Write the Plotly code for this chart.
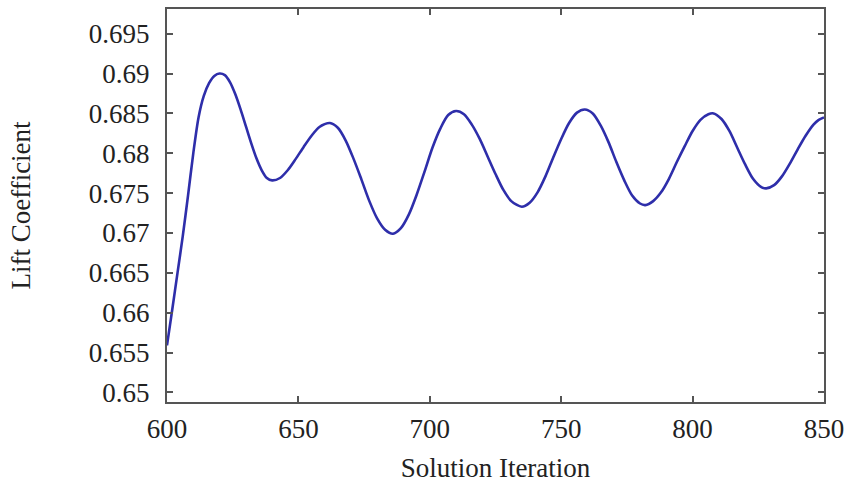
import plotly.graph_objects as go

# Lift coefficient history over solver iterations
iterations = [
    600, 602, 604, 606, 608, 610, 612, 614, 616, 618, 620,
    622, 624, 626, 628, 630, 632, 634, 636, 638, 640,
    643, 646, 649, 652, 655, 658, 662,
    665, 668, 671, 674, 677, 680, 683, 686,
    689, 692, 695, 698, 701, 704, 707, 710,
    713, 716, 719, 722, 725, 728, 731, 735,
    738, 741, 744, 747, 750, 753, 756, 759,
    762, 765, 768, 771, 774, 777, 780, 782,
    785, 788, 791, 794, 797, 800, 803, 806, 808,
    811, 814, 817, 820, 823, 826, 828,
    831, 834, 837, 840, 843, 846, 848, 850,
]
lift = [
    0.6559, 0.6604, 0.6650, 0.6696, 0.6747, 0.6800, 0.6845, 0.6872, 0.6888, 0.6897, 0.6900,
    0.6898, 0.6889, 0.6874, 0.6855, 0.6834, 0.6813, 0.6794, 0.6779, 0.6769, 0.6766,
    0.6769, 0.6779, 0.6793, 0.6808, 0.6822, 0.6833, 0.6838,
    0.6832, 0.6816, 0.6793, 0.6767, 0.6740, 0.6718, 0.6704, 0.6699,
    0.6706, 0.6723, 0.6748, 0.6777, 0.6807, 0.6831, 0.6848, 0.6853,
    0.6849, 0.6836, 0.6818, 0.6796, 0.6774, 0.6754, 0.6740, 0.6733,
    0.6738, 0.6751, 0.6771, 0.6795, 0.6818, 0.6838, 0.6851, 0.6855,
    0.6850, 0.6835, 0.6814, 0.6789, 0.6766, 0.6747, 0.6737, 0.6735,
    0.6740, 0.6751, 0.6768, 0.6789, 0.6809, 0.6828, 0.6842, 0.6849, 0.6850,
    0.6843, 0.6828, 0.6807, 0.6786, 0.6768, 0.6758, 0.6756,
    0.6760, 0.6771, 0.6787, 0.6805, 0.6822, 0.6836, 0.6842, 0.6845,
]

x_ticks = [600, 650, 700, 750, 800, 850]
y_ticks = [0.65, 0.655, 0.66, 0.665, 0.67, 0.675, 0.68, 0.685, 0.69, 0.695]
y_tick_text = ["0.65", "0.655", "0.66", "0.665", "0.67", "0.675",
               "0.68", "0.685", "0.69", "0.695"]

font_family = "Liberation Serif"
axis_color = "#555555"
text_color = "#222222"
font_size = 27

fig = go.Figure(
    go.Scatter(
        x=iterations,
        y=lift,
        mode="lines",
        line=dict(color="#2e2eaa", width=2.6, shape="spline", smoothing=0.8),
        hoverinfo="x+y",
    )
)

fig.update_layout(
    width=850,
    height=484,
    margin=dict(l=167, r=26, t=9, b=82),
    paper_bgcolor="white",
    plot_bgcolor="white",
    showlegend=False,
    font=dict(family=font_family, size=font_size, color=text_color),
)

fig.update_xaxes(
    range=[600, 850],
    tickvals=x_ticks,
    ticktext=[str(v) for v in x_ticks],
    ticks="inside",
    ticklen=6,
    tickwidth=1.5,
    tickcolor=axis_color,
    showline=True,
    linecolor=axis_color,
    linewidth=2,
    mirror="ticks",
    showgrid=False,
    zeroline=False,
    automargin=False,
    ticklabelstandoff=2,
    tickfont=dict(family=font_family, size=font_size, color=text_color),
    title=dict(text="Solution Iteration", standoff=15,
               font=dict(family=font_family, size=font_size, color=text_color)),
)

fig.update_yaxes(
    range=[0.6488, 0.6981],
    tickvals=y_ticks,
    ticktext=y_tick_text,
    ticks="inside",
    ticklen=6,
    tickwidth=1.5,
    tickcolor=axis_color,
    showline=True,
    linecolor=axis_color,
    linewidth=2,
    mirror="ticks",
    showgrid=False,
    zeroline=False,
    automargin=False,
    ticklabelstandoff=10,
    tickfont=dict(family=font_family, size=font_size, color=text_color),
    title=dict(text="Lift Coefficient", standoff=50,
               font=dict(family=font_family, size=font_size, color=text_color)),
)

fig.write_html("out.html")
